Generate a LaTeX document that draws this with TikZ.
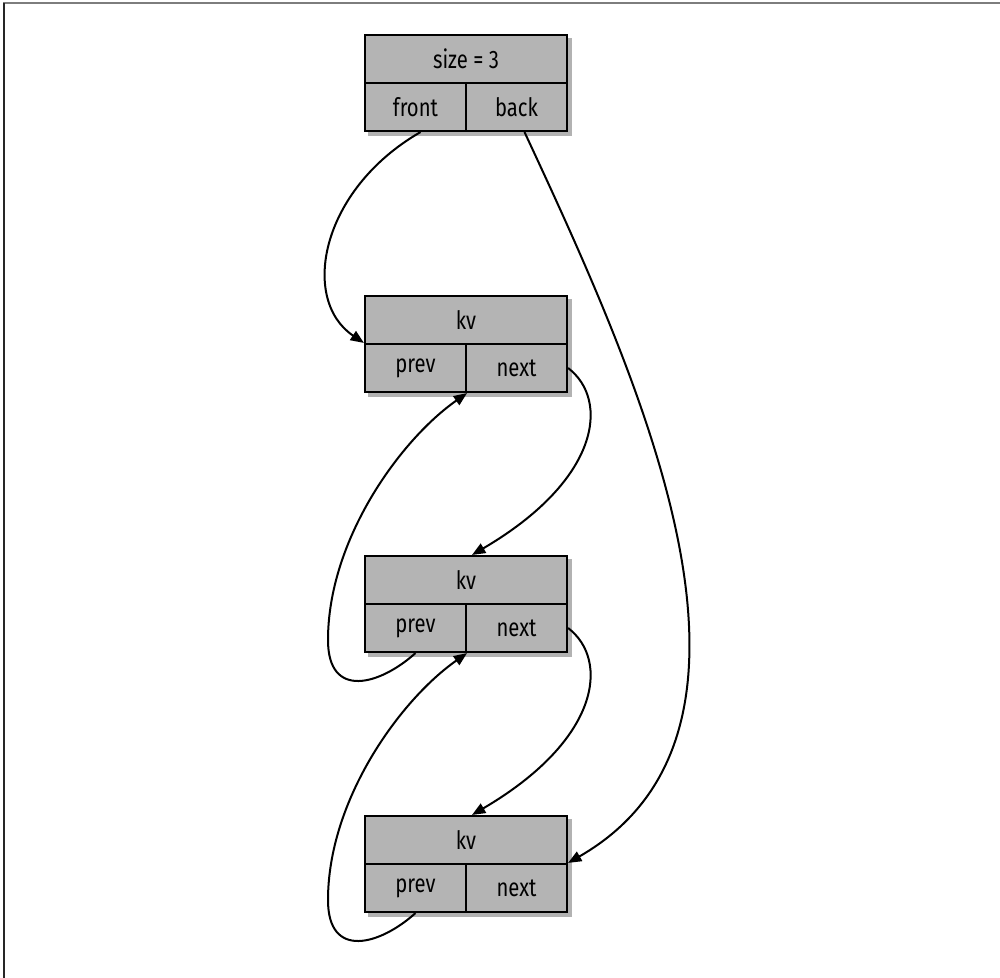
\documentclass[tikz,border=0pt]{standalone}
\usepackage{fontspec}
\setmainfont[FakeStretch=0.8]{Fira Sans}
\usetikzlibrary{arrows.meta,shadows,backgrounds,calc}
\definecolor{cellgray}{RGB}{180,180,180}
\definecolor{framegray}{RGB}{125,125,125}
\tikzset{
  cell/.style={draw=black, fill=cellgray, line width=1.6pt, inner sep=0pt,
    minimum height=36pt, minimum width=75.75pt, font=\fontsize{19}{22}\selectfont},
  wide/.style={cell, minimum width=151.5pt},
  ptr/.style={line width=1.5pt, -{Triangle[length=10pt,width=8pt]}},
  boxshadow/.style={drop shadow={shadow xshift=3pt, shadow yshift=-3pt, opacity=0.3, fill=black}}
}

\begin{document}
\begin{tikzpicture}[x=0.75pt,y=0.75pt,yscale=-1,xscale=1]
\useasboundingbox (0,0) rectangle (1000,978);

%Frame: top and left edge
\draw [line width=1.5pt, framegray] (3,3) -- (1000,3) ;
\draw [line width=1.5pt, black!85] (4,3) -- (4,978) ;

%Shape: list header
\node [wide] (size) at (466,59) {size = 3};
\node [cell] (front) at (415.5,107) {front};
\node [cell] (back) at (516.5,107) {back};

%Shape: first entry
\node [wide] (kv1) at (466,320) {kv};
\node [cell] (prev1) at (415.5,368) {prev};
\node [cell] (next1) at (516.5,368) {next};

%Shape: second entry
\node [wide] (kv2) at (466,580) {kv};
\node [cell] (prev2) at (415.5,628) {prev};
\node [cell] (next2) at (516.5,628) {next};

%Shape: third entry
\node [wide] (kv3) at (466,840) {kv};
\node [cell] (prev3) at (415.5,888) {prev};
\node [cell] (next3) at (516.5,888) {next};

%Shadows
\begin{scope}[on background layer]
\path [boxshadow] (size.north west) rectangle (back.south east) ;
\path [boxshadow] (kv1.north west) rectangle (next1.south east) ;
\path [boxshadow] (kv2.north west) rectangle (next2.south east) ;
\path [boxshadow] (kv3.north west) rectangle (next3.south east) ;
\end{scope}

%Curve: front and back
\draw [ptr] ($(front.south)+(5,0)$) .. controls (320,190) and (300,300) .. (prev1.north west) ;
\draw [ptr] ($(back.south)+(8,0)$) .. controls (640,380) and (800,730) .. (next3.north east) ;

%Curve: next links
\draw [ptr] (next1.east) .. controls (610,400) and (600,480) .. ($(kv2.north)+(6,0)$) ;
\draw [ptr] (next2.east) .. controls (610,660) and (600,740) .. ($(kv3.north)+(6,0)$) ;

%Curve: prev links
\draw [ptr] (prev2.south) .. controls (380,685) and (328,700) .. (328,640) .. controls (328,540) and (400,440) .. (prev1.south east) ;
\draw [ptr] (prev3.south) .. controls (380,945) and (328,960) .. (328,900) .. controls (328,800) and (400,700) .. (prev2.south east) ;

\end{tikzpicture}
\end{document}
